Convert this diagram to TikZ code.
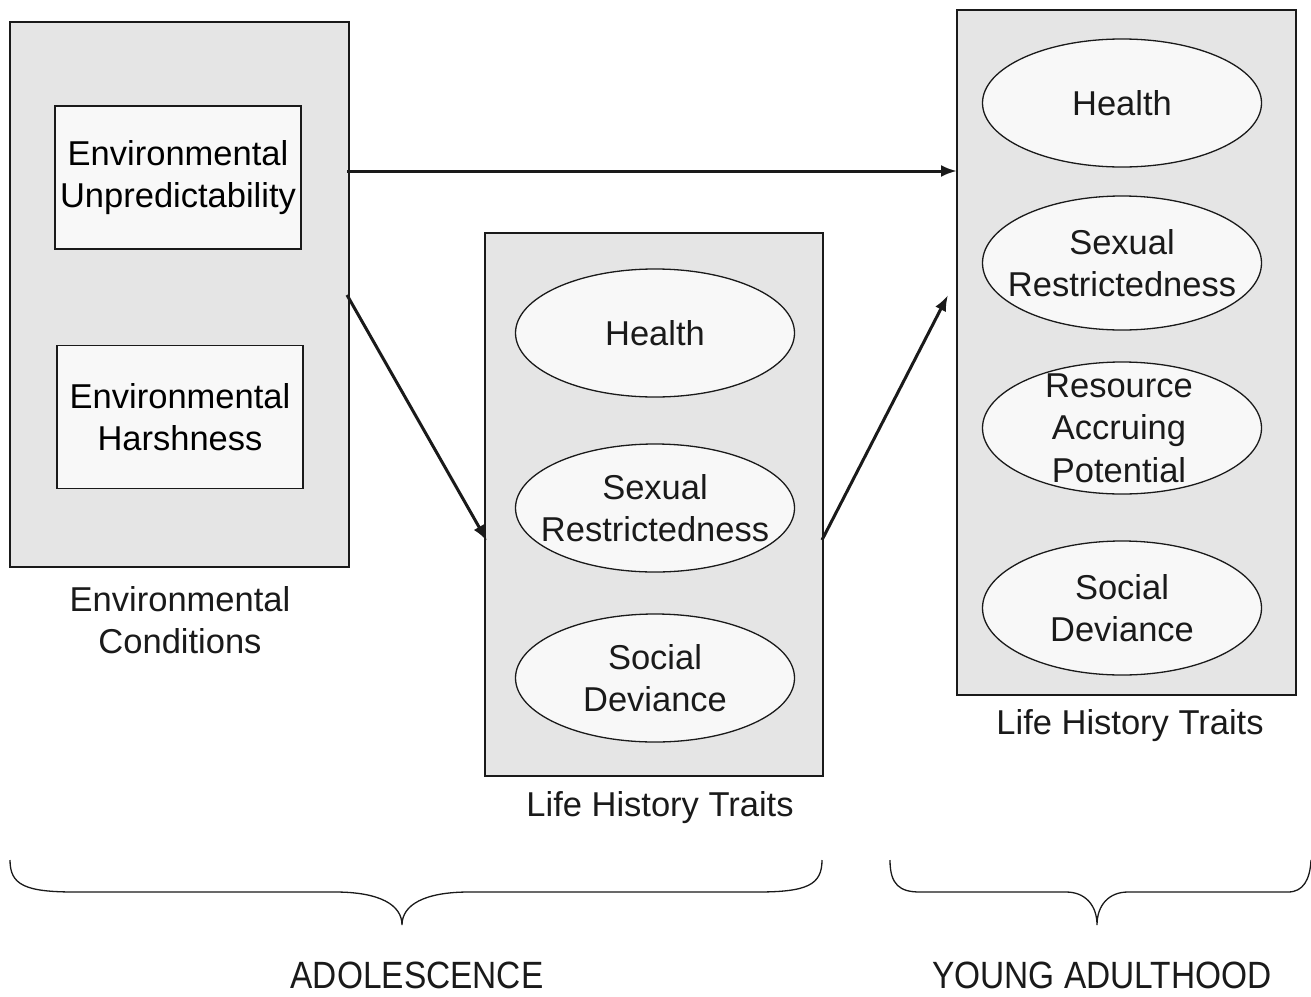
\documentclass[tikz,border=0pt]{standalone}
\usepackage{fontspec}
\setmainfont{Liberation Sans}
\usetikzlibrary{shapes.geometric,arrows.meta}
\definecolor{outerfill}{HTML}{E5E5E5}
\definecolor{innerfill}{HTML}{F8F8F8}
\definecolor{ink}{HTML}{1A1A1A}
\begin{document}
\begin{tikzpicture}[x=1pt,y=-1pt,
  outerbox/.style={draw=ink,line width=1.4pt,fill=outerfill,rectangle,inner sep=0pt},
  innerbox/.style={draw=ink,line width=1.4pt,fill=innerfill,rectangle,inner sep=0pt,
    minimum width=246pt,minimum height=143pt,align=center,font=\fontsize{34.5}{42.5}\selectfont},
  trait/.style={draw=ink,line width=1.3pt,fill=innerfill,ellipse,inner sep=0pt,
    minimum width=279pt,minimum height=128pt},
  traittext/.style={align=center,font=\fontsize{34.5}{42.5}\selectfont,text=ink,inner sep=0pt},
  lbl/.style={align=center,font=\fontsize{34.5}{42.5}\selectfont,text=ink},
  age/.style={font=\fontsize{38}{44}\selectfont,xscale=0.88,text=ink,inner sep=0pt,anchor=base},
  arr/.style={line width=3pt,draw=ink,-{Latex[length=16pt,width=12pt]}},
  brace/.style={line width=1.3pt,draw=ink}]
\useasboundingbox (0,0) rectangle (1311,996);
\fill[white] (0,0) rectangle (1311,996);

% outer boxes
\node[outerbox,minimum width=339pt,minimum height=545pt] (lbox) at (179.5,294.5) {};
\node[outerbox,minimum width=338pt,minimum height=543pt] (mbox) at (654,504.5) {};
\node[outerbox,minimum width=339pt,minimum height=685pt] (rbox) at (1126.5,352.5) {};

% left inner boxes
\node[innerbox] (eu) at (178,177.5) {Environmental\\Unpredictability};
\node[innerbox] (eh) at (180,417) {Environmental\\Harshness};
\node[lbl] (ec) at (180,620) {Environmental\\Conditions};

% middle ellipses
\node[trait] (mh) at (655,333) {};
\node[traittext] (mht) at (mh.center) {Health};
\node[trait] (ms) at (655,508) {};
\node[traittext] (mst) at (ms.center) {Sexual\\Restrictedness};
\node[trait] (md) at (655,678) {};
\node[traittext] (mdt) at (md.center) {Social\\Deviance};
\node[lbl] (mlbl) at (660,808) {Life History Traits};

% right ellipses
\node[trait] (rh) at (1122,103) {};
\node[traittext] (rht) at (rh.center) {Health};
\node[trait,minimum height=134pt] (rs) at (1122,263) {};
\node[traittext] (rst) at (rs.center) {Sexual\\Restrictedness};
\node[trait,minimum height=132pt] (rr) at (1122,428) {};
\node[traittext] (rrt) at ([xshift=-3pt]rr.center) {Resource\\Accruing\\Potential};
\node[trait,minimum height=134pt] (rd) at (1122,608) {};
\node[traittext] (rdt) at (rd.center) {Social\\Deviance};
\node[lbl] (rlbl) at (1130,726) {Life History Traits};

% arrows
\coordinate (h1) at (347,171);
\coordinate (h2) at (957,171);
\draw[arr] (h1) -- (h2);
\coordinate (d1s) at (347,295);
\coordinate (d1e) at (487,541);
\draw[arr] (d1s) -- (d1e);
\coordinate (d2s) at (822,540);
\coordinate (d2e) at (948,295);
\draw[arr] (d2s) -- (d2e);

% braces
\draw[brace] (10,860) .. controls (10,885) and (25,892) .. (75,892)
  -- (335,892) .. controls (380,892) and (402,905) .. (402,925)
  .. controls (402,905) and (424,892) .. (469,892)
  -- (757,892) .. controls (807,892) and (822,885) .. (822,860);
\draw[brace] (890,860) .. controls (890,885) and (900,892) .. (920,892)
  -- (1066,892) .. controls (1085,892) and (1097,905) .. (1097,925)
  .. controls (1097,905) and (1109,892) .. (1128,892)
  -- (1288,892) .. controls (1303,892) and (1310,880) .. (1311,860);

\node[age] (adol) at (417,988) {ADOLESCENCE};
\node[age] (young) at (1102,988) {YOUNG ADULTHOOD};
\end{tikzpicture}
\end{document}
